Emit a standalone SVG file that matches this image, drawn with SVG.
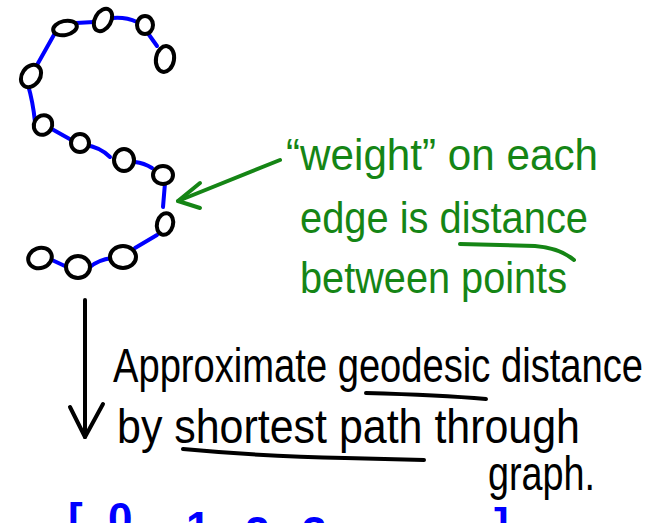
<svg xmlns="http://www.w3.org/2000/svg" width="665" height="523" viewBox="0 0 665 523">
<style>
.edge{fill:none;stroke:#0000ff;stroke-width:4;stroke-linecap:round}
.node{fill:#ffffff;stroke:#000000;stroke-width:4}
.green{fill:#158515;font-family:"Liberation Sans","DejaVu Sans",sans-serif;font-size:44px}
.black{fill:#000000;font-family:"Liberation Sans","DejaVu Sans",sans-serif;font-size:48px}
.blue{fill:#0000ff;font-family:"Liberation Sans","DejaVu Sans",sans-serif;font-size:44px;font-weight:bold}
.gline{fill:none;stroke:#158515;stroke-width:4;stroke-linecap:round;stroke-linejoin:round}
.kline{fill:none;stroke:#000000;stroke-width:4;stroke-linecap:round;stroke-linejoin:round}
</style>
<rect width="665" height="523" fill="#ffffff"/>
<g id="connectors">
<path class="edge" d="M76,23 L94,22"/>
<path class="edge" d="M113,18 Q126,17 137,22"/>
<path class="edge" d="M147,32 L157,46"/>
<path class="edge" d="M55,33 L37,65"/>
<path class="edge" d="M28,85 Q33,102 35,122"/>
<path class="edge" d="M50,128 L75,142"/>
<path class="edge" d="M85,145 Q100,147 110,157"/>
<path class="edge" d="M135,162 Q144,163 152,168"/>
<path class="edge" d="M165,183 L163,207"/>
<path class="edge" d="M157,235 L135,248"/>
<path class="edge" d="M112,258 Q98,260 90,267"/>
<path class="edge" d="M67,267 L52,260"/>
</g>
<g id="nodeA"><ellipse class="node" cx="65" cy="28" rx="12" ry="7" transform="rotate(-12 65 28)"/></g>
<g id="nodeB"><ellipse class="node" cx="103" cy="20" rx="8" ry="12" transform="rotate(30 103 20)"/></g>
<g id="nodeC"><ellipse class="node" cx="145" cy="25" rx="8" ry="9"/></g>
<g id="nodeD"><ellipse class="node" cx="165" cy="59" rx="9" ry="13" transform="rotate(10 165 59)"/></g>
<g id="nodeE"><ellipse class="node" cx="31" cy="76" rx="9" ry="12" transform="rotate(35 31 76)"/></g>
<g id="nodeF"><ellipse class="node" cx="43" cy="125" rx="9" ry="10" transform="rotate(30 43 125)"/></g>
<g id="nodeG"><ellipse class="node" cx="80" cy="143" rx="9" ry="9"/></g>
<g id="nodeH"><ellipse class="node" cx="124" cy="160" rx="10" ry="11"/></g>
<g id="nodeI"><ellipse class="node" cx="163" cy="175" rx="10" ry="9"/></g>
<g id="nodeJ"><ellipse class="node" cx="165" cy="224" rx="8" ry="11" transform="rotate(15 165 224)"/></g>
<g id="nodeK"><ellipse class="node" cx="123" cy="257" rx="13" ry="11"/></g>
<g id="nodeL"><ellipse class="node" cx="78" cy="267" rx="12" ry="11"/></g>
<g id="nodeM"><ellipse class="node" cx="40" cy="258" rx="12" ry="10" transform="rotate(-20 40 258)"/></g>
<g id="note">
<path class="gline" d="M280,160 L178,201"/>
<path class="gline" d="M200,183 L178,201 L200,208"/>
<text class="green" x="286" y="170" textLength="312" lengthAdjust="spacingAndGlyphs">“weight” on each</text>
<text class="green" x="300" y="233" textLength="288" lengthAdjust="spacingAndGlyphs">edge is distance</text>
<path class="gline" d="M460,244 L535,246 Q560,248 574,260"/>
<text class="green" x="300" y="293" textLength="267" lengthAdjust="spacingAndGlyphs">between points</text>
</g>
<g id="approx">
<path class="kline" d="M85,300 L85,437"/>
<path class="kline" d="M70,407 L85,437 L103,404"/>
<text class="black" x="113" y="382" textLength="530" lengthAdjust="spacingAndGlyphs">Approximate geodesic distance</text>
<path class="kline" d="M366,393 Q440,395 486,399"/>
<text class="black" x="117" y="443" textLength="463" lengthAdjust="spacingAndGlyphs">by shortest path through</text>
<path class="kline" d="M183,449 Q270,457 345,458 L424,460"/>
<text class="black" x="488" y="490" textLength="107" lengthAdjust="spacingAndGlyphs">graph.</text>
</g>
<g id="matrix">
<text class="blue" x="68" y="534">[</text>
<text class="blue" x="108" y="534">0</text>
<text class="blue" x="186" y="543">1</text>
<text class="blue" x="245" y="548">2</text>
<text class="blue" x="302" y="548">3</text>
<text class="blue" x="494" y="539">]</text>
</g>
</svg>
